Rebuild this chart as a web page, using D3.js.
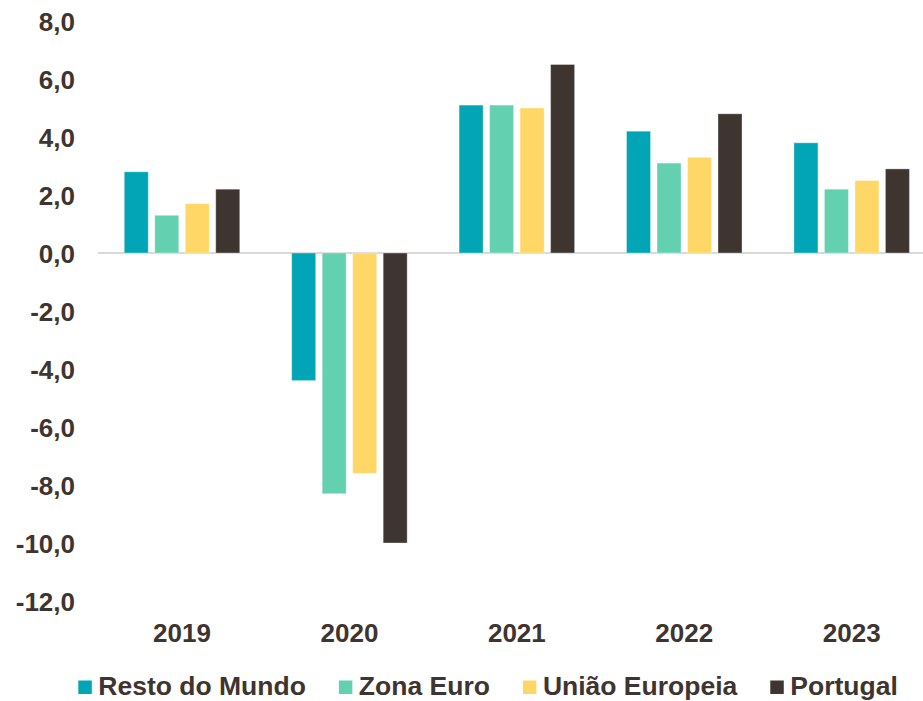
<!DOCTYPE html>
<meta charset="utf-8">
<script src="https://d3js.org/d3.v7.min.js"></script>
<style>
body { margin: 0; background: #fff; }
text { font-family: "Liberation Sans", Arial, sans-serif; font-weight: bold; fill: #3e3430; }
.tick text { font-size: 26px; }
.legend text { font-size: 26.5px; }
</style>
<svg width="923" height="701"></svg>
<script>

var years = ["2019", "2020", "2021", "2022", "2023"];
var series = ["Resto do Mundo", "Zona Euro", "União Europeia", "Portugal"];
var colors = ["#02a5b5", "#63d1b0", "#ffd766", "#3e3430"];

var restoMundo = [2.8, -4.4, 5.1, 4.2, 3.8];
var zonaEuro = [1.3, -8.3, 5.1, 3.1, 2.2];
var uniaoEuropeia = [1.7, -7.6, 5.0, 3.3, 2.5];
var portugal = [2.2, -10.0, 6.5, 4.8, 2.9];

var yTicks = [8, 6, 4, 2, 0, -2, -4, -6, -8, -10, -12];

var values = [restoMundo, zonaEuro, uniaoEuropeia, portugal];

var svg = d3.select("svg");

var x0 = d3.scaleBand()
    .domain(years)
    .range([98.3, 935.4]);

var x1 = d3.scaleBand()
    .domain(series)
    .range([-57.75, 57.75])
    .paddingInner(0.213);

var y = d3.scaleLinear()
    .domain([-12, 8])
    .range([601, 21]);

var color = d3.scaleOrdinal().domain(series).range(colors);

var fmt = function(d) { return d3.format(".1f")(d).replace(".", ",").replace("−", "-"); };

// y labels
var yAxis = svg.append("g")
    .attr("transform", "translate(75,0)")
    .call(d3.axisLeft(y).tickValues(yTicks).tickFormat(fmt).tickSize(0).tickPadding(0));
yAxis.select(".domain").remove();
yAxis.selectAll("text").attr("dy", "0.38em");

// zero line
svg.append("line")
    .attr("x1", 98)
    .attr("x2", 923)
    .attr("y1", y(0))
    .attr("y2", y(0))
    .attr("stroke", "#d9d9d9")
    .attr("stroke-width", 2);

// bars
series.forEach(function(s, i) {
  svg.append("g").selectAll("rect")
    .data(years.map(function(yr, j) { return {year: yr, value: values[i][j]}; }))
    .enter().append("rect")
      .attr("x", function(d) { return x0(d.year) + x0.bandwidth() / 2 + x1(s); })
      .attr("width", x1.bandwidth())
      .attr("y", function(d) { return y(Math.max(0, d.value)); })
      .attr("height", function(d) { return Math.abs(y(d.value) - y(0)); })
      .attr("fill", color(s))
      .attr("stroke", "#fff")
      .attr("stroke-opacity", 0.35)
      .attr("stroke-width", 1);
});

// x labels
var xAxis = svg.append("g")
    .attr("transform", "translate(0,633)")
    .call(d3.axisBottom(x0).tickSize(0).tickPadding(0));
xAxis.select(".domain").remove();
xAxis.selectAll("text").attr("dy", "0.35em");

// legend
var legend = svg.append("g").attr("class", "legend");
var lx = 78.3;
series.forEach(function(s) {
  legend.append("rect")
    .attr("x", lx)
    .attr("y", 680.5)
    .attr("width", 13.5)
    .attr("height", 13.5)
    .attr("fill", color(s));
  var t = legend.append("text")
    .attr("x", lx + 20)
    .attr("y", 695)
    .text(s);
  lx = lx + 20 + t.node().getComputedTextLength() + 33;
});

</script>
